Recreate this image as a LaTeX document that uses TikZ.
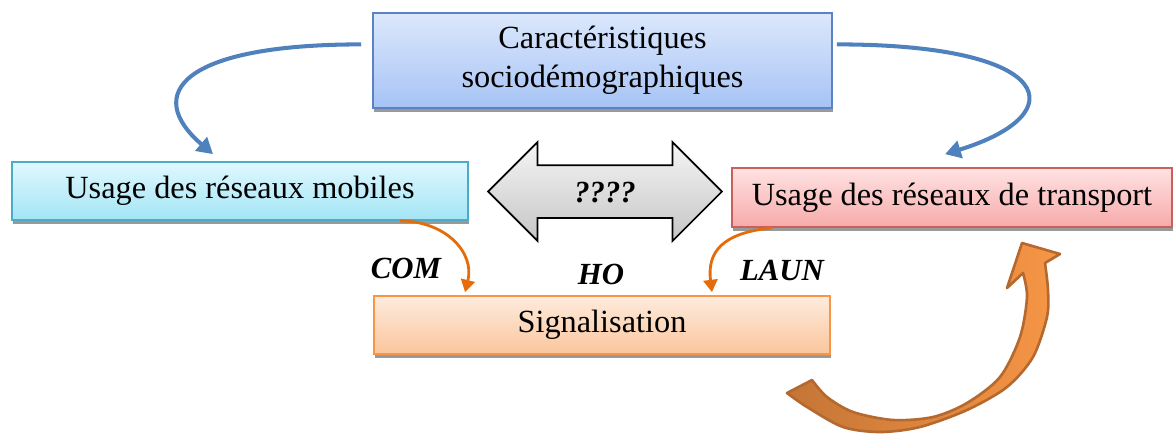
\documentclass[tikz,border=0pt]{standalone}
\usepackage{fontspec}
\setmainfont{Liberation Serif}
\usetikzlibrary{arrows.meta,positioning,shapes.arrows,shadows}

\definecolor{caraline}{HTML}{5B82C1}
\definecolor{caratop}{HTML}{DCE8FC}
\definecolor{carabot}{HTML}{A6C3F5}
\definecolor{mobline}{HTML}{4BACC6}
\definecolor{mobtop}{HTML}{E0F8FE}
\definecolor{mobbot}{HTML}{A3E5F6}
\definecolor{transline}{HTML}{C9605C}
\definecolor{transtop}{HTML}{FFE2E2}
\definecolor{transbot}{HTML}{F7AAAA}
\definecolor{sigline}{HTML}{F79646}
\definecolor{sigtop}{HTML}{FDEBDD}
\definecolor{sigbot}{HTML}{FBC69D}
\definecolor{linkblue}{HTML}{4F81BD}
\definecolor{linkorange}{HTML}{E46C0A}
\definecolor{bigdark}{HTML}{C47536}
\definecolor{biglight}{HTML}{F79646}
\definecolor{bigline}{HTML}{B5692F}

\begin{document}
\begin{tikzpicture}[
    x=0.02cm, y=0.02cm,
    font=\fontsize{18.4}{22}\selectfont,
    box/.style={draw, line width=1pt, align=center,
      drop shadow={shadow xshift=.02cm, shadow yshift=-.08cm, fill=black!40, opacity=1}},
    lbl/.style={font=\fontsize{17.5}{21}\selectfont\bfseries\itshape},
    bluelink/.style={draw=linkblue, line width=2.3pt, -{Triangle[length=9pt,width=10pt]}},
    orangelink/.style={draw=linkorange, line width=1.6pt, -{Triangle[length=7pt,width=8pt]}}
  ]
    \useasboundingbox (0,0) rectangle (1176,-434);

    % boxes
    \node[box, draw=caraline, top color=caratop, bottom color=carabot,
      minimum width=9.18cm, minimum height=1.9cm] (cara) at (602.5,-60.5)
      {Caractéristiques\\sociodémographiques};
    \node[box, draw=mobline, top color=mobtop, bottom color=mobbot,
      minimum width=9.12cm, minimum height=1.16cm] (mob) at (240,-191)
      {Usage des réseaux mobiles};
    \node[box, draw=transline, top color=transtop, bottom color=transbot,
      minimum width=8.8cm, minimum height=1.18cm] (trans) at (952,-197.5)
      {Usage des réseaux de transport};
    \node[box, draw=sigline, top color=sigtop, bottom color=sigbot,
      minimum width=9.12cm, minimum height=1.16cm] (sig) at (602,-325)
      {Signalisation};

    % double arrow
    \node[double arrow, draw=black, line width=1pt, top color=gray!8, bottom color=gray!45,
      double arrow head extend=.46cm, double arrow tip angle=90,
      minimum height=4.68cm, inner ysep=0pt, inner xsep=0pt,
      text height=.73cm, text depth=.29cm, lbl] (q) at (605,-191.5) {????};

    % labels
    \node[lbl] (com) at (406,-268) {COM};
    \node[lbl] (ho) at (601,-274) {HO};
    \node[lbl] (laun) at (782,-270) {LAUN};

    % links
    \draw[bluelink] ([xshift=-.22cm]cara.176) .. controls +(-180,0) and +(-70,60) ..
      ([shift={(-.54cm,.14cm)}]mob.north);
    \draw[bluelink] ([xshift=.08cm]cara.4) .. controls +(220,0) and +(130,40) ..
      ([shift={(-.14cm,.26cm)}]trans.north);
    \draw[orangelink] ([xshift=3.2cm]mob.south) .. controls +(45,0) and +(10,40) ..
      ([shift={(-2.74cm,.06cm)}]sig.north);
    \draw[orangelink] ([xshift=-3.6cm]trans.south) .. controls +(-50,-5) and +(-5,40) ..
      ([shift={(2.2cm,.06cm)}]sig.north);

    % big curved arrow
    \draw[bigline, line width=1.5pt, left color=bigdark, right color=biglight, line join=round]
      (1007,-288) -- (1022,-243) -- (1060,-254)
      -- plot[smooth] coordinates {(1045,-263) (1048,-290) (1047,-317) (1033,-357) (1007,-387)
        (967,-410) (920,-427) (880,-432) (843,-427) (807,-407) (787,-393)}
      -- plot[smooth] coordinates {(812,-380) (827,-397) (853,-412) (893,-420) (933,-417)
        (967,-403) (1000,-377) (1020,-337) (1027,-297) (1023,-273)}
      -- cycle;
\end{tikzpicture}
\end{document}
